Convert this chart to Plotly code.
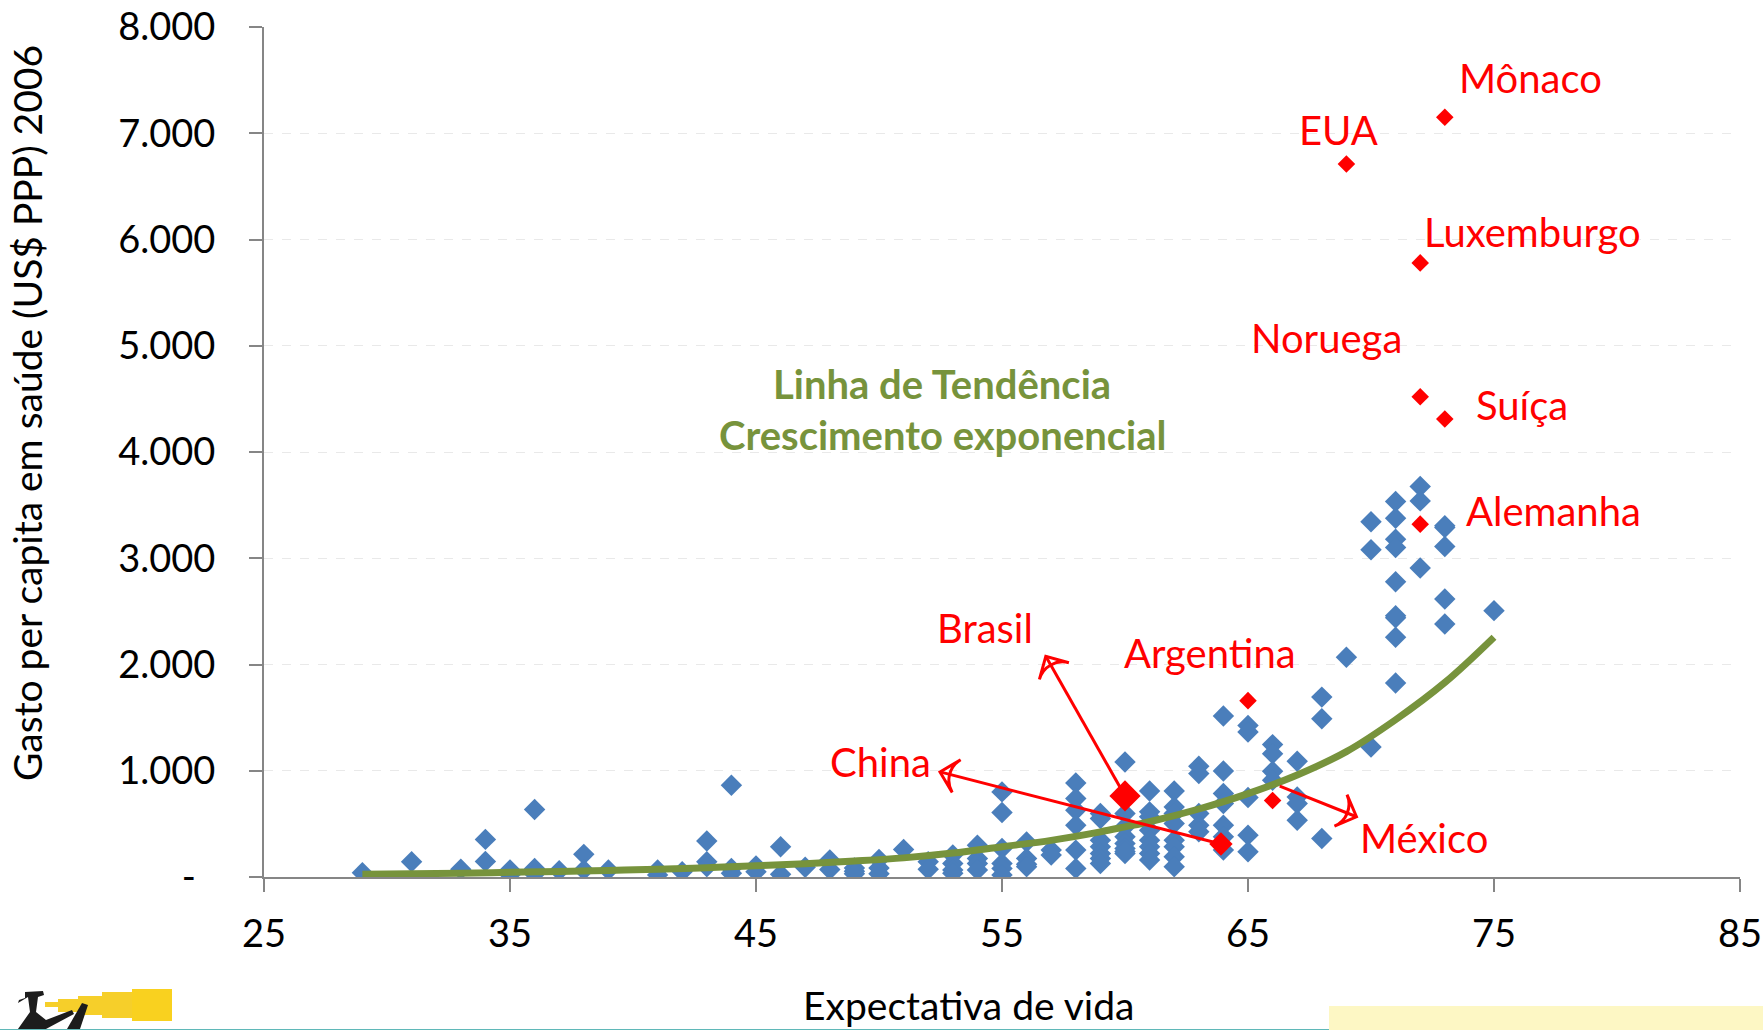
import plotly.graph_objects as go

W, H = 1763, 1030
L, R, T, B = 264, 1740, 27, 877

blue_x = [29,31,33,34,34,35,35,36,36,36,37,38,38,39,41,41,42,43,43,43,44,44,44,
          45,45,46,46,47,48,48,49,49,49,50,50,50,51,52,52,53,53,53,53,
          54,54,54,54,55,55,55,55,55,55,56,56,56,56,57,57,
          58,58,58,58,58,58,59,59,59,59,59,59,59,60,60,60,60,60,60,60,60,
          61,61,61,61,61,61,61,61,62,62,62,62,62,62,62,62,63,63,63,63,63,
          64,64,64,64,64,64,64,65,65,65,65,65,66,66,66,66,67,67,67,67,68,68,68,
          69,70,70,70,71,71,71,71,71,71,71,71,71,72,72,72,73,73,73,73,73,75]
blue_y = [40,144,72,354,147,66,20,636,80,28,60,213,66,66,66,20,50,338,144,97,864,81,35,
          103,50,285,25,91,160,70,85,55,30,165,85,30,260,144,72,207,128,66,35,
          300,175,128,66,801,607,269,128,81,19,330,175,120,97,253,206,
          885,738,629,488,253,81,598,550,347,285,222,175,128,1083,598,472,378,316,269,222,240,
          810,613,566,441,347,285,222,160,810,660,598,504,347,285,190,97,1042,973,598,488,425,
          1515,998,785,692,488,378,253,1427,1365,748,394,238,1246,1161,995,911,1089,754,692,535,1693,1490,363,
          2069,3343,3080,1224,3534,3377,3180,3102,2779,2460,2257,1825,2440,3675,3540,2908,3305,3111,2617,2382,3290,2507]

red_names = ["Mônaco","EUA","Luxemburgo","Noruega","Suíça","Alemanha","Argentina","México"]
red_x = [73,69,72,72,73,72,65,66]
red_y = [7150,6710,5780,4520,4310,3321,1660,720]
big_x = [60,63.9]
big_y = [763,310]
big_size = [24,18]

trend_x = [29,31,33,35,37,39,41,43,45,47,49,51,53,55,57,59,60,61,63,65,67,69,71,73,75]
trend_y = [25,30,36,44,52,62,72,88,105,125,150,180,225,285,345,425,472,520,640,785,960,1180,1480,1830,2257]

arrow_brasil = ([60,56.78],[763,2077])
arrow_china = ([63.9,52.48],[310,989])
arrow_mexico = ([66.29,69.41],[855,567])

x_ticks = [25,35,45,55,65,75,85]
y_ticks = [0,1000,2000,3000,4000,5000,6000,7000,8000]
y_labels = ["-\u00a0\u00a0","1.000","2.000","3.000","4.000","5.000","6.000","7.000","8.000"]

FONT = "Lato"
RED = "#FF0000"
GREEN = "#77933C"
BLUE = "#4A7EBB"
FS = 40
TICK_FS = 38
TITLE_FS = 39

px = lambda v: (v - L) / (R - L)
py = lambda v: (B - v) / (B - T)

fig = go.Figure()
fig.add_trace(go.Scatter(x=blue_x, y=blue_y, mode="markers", showlegend=False,
                         marker=dict(symbol="diamond", size=16.5, color=BLUE, line=dict(width=0))))
fig.add_trace(go.Scatter(x=trend_x, y=trend_y, mode="lines", showlegend=False,
                         line=dict(color=GREEN, width=7, shape="spline")))
fig.add_trace(go.Scatter(x=red_x, y=red_y, mode="markers", showlegend=False,
                         marker=dict(symbol="diamond", size=13.5, color=RED, line=dict(width=0))))
fig.add_trace(go.Scatter(x=big_x, y=big_y, mode="markers", showlegend=False,
                         marker=dict(symbol="diamond", size=big_size, color=RED, opacity=1, line=dict(width=0))))
for ax_, ay_ in (arrow_brasil, arrow_china, arrow_mexico):
    fig.add_trace(go.Scatter(x=ax_, y=ay_, mode="lines+markers", showlegend=False,
                             line=dict(color=RED, width=3),
                             marker=dict(symbol="arrow-wide-open", size=[0,24], angleref="previous", opacity=1,
                                         color=RED, line=dict(color=RED, width=3))))

labels = [("Mônaco",1530,78),("EUA",1338,130),("Luxemburgo",1532,232),("Noruega",1326,338),
          ("Suíça",1522,405),("Alemanha",1553,511),("Brasil",985,628),("Argentina",1210,653),
          ("China",880,762),("México",1424,838)]
anns = [dict(text=t, x=px(x), y=py(y), xref="paper", yref="paper", showarrow=False,
             xanchor="center", yanchor="middle", font=dict(family=FONT, size=FS, color=RED))
        for t, x, y in labels]
for t, y in (("Linha de Tendência",384),("Crescimento exponencial",435)):
    anns.append(dict(text="<b>"+t+"</b>", x=px(942), y=py(y), xref="paper", yref="paper", showarrow=False,
                     xanchor="center", yanchor="middle", font=dict(family=FONT, size=FS, color=GREEN)))
anns.append(dict(text="Expectativa de vida", x=px(968), y=py(1005), xref="paper", yref="paper", showarrow=False,
                 xanchor="center", yanchor="middle", font=dict(family=FONT, size=TITLE_FS, color="#000000")))
anns.append(dict(text="Gasto per capita em saúde (US$ PPP) 2006", x=px(27), y=py(413), xref="paper", yref="paper",
                 showarrow=False, textangle=-90, xanchor="center", yanchor="middle",
                 font=dict(family=FONT, size=TITLE_FS, color="#000000")))

def rect(x0, y0, x1, y1, color):
    return dict(type="rect", xref="paper", yref="paper", x0=px(x0), x1=px(x1), y0=py(y1), y1=py(y0),
                fillcolor=color, line=dict(width=0), layer="below")

def poly(points, color):
    d = "M " + " L ".join(f"{px(a):.5f},{py(b):.5f}" for a, b in points) + " Z"
    return dict(type="path", xref="paper", yref="paper", path=d, fillcolor=color, line=dict(width=0), layer="below")

shapes = [
    rect(0,1029,1329,1030,"#5FB8B8"),
    rect(1329,1006,W,1030,"#FDF7C4"),
    rect(45,1002,58,1007,"#F6CF2A"),
    rect(58,999,78,1012,"#F6CF2A"),
    rect(78,996,102,1015,"#F6CF2A"),
    rect(102,992,133,1018,"#F6CF2A"),
    rect(132,989,172,1021,"#F9D11F"),
    poly([(25,992),(43,991),(44,995),(38,997),(36,1012),(46,1020),(72,1010),(74,1014),(46,1029),(18,1029),(30,1012),(28,997),(18,1003),(19,1000),(25,998)],"#1C1C1C"),
    poly([(82,1003),(88,1005),(80,1029),(67,1029)],"#1C1C1C"),
]

fig.update_layout(
    width=W, height=H, autosize=False, paper_bgcolor="white", plot_bgcolor="white",
    margin=dict(l=L, r=W-R, t=T, b=H-B, autoexpand=False),
    font=dict(family=FONT, size=TICK_FS, color="#000000"),
    annotations=anns, shapes=shapes, showlegend=False,
    xaxis=dict(range=[25,85], tickmode="array", tickvals=x_ticks, ticks="outside", ticklen=13, tickwidth=2,
               tickcolor="#868686", showline=True, linecolor="#868686", linewidth=2, showgrid=False, zeroline=False,
               tickfont=dict(family=FONT, size=TICK_FS), automargin=False, ticklabelstandoff=9),
    yaxis=dict(range=[0,8000], tickmode="array", tickvals=y_ticks, ticktext=y_labels, ticks="outside", ticklen=13,
               tickwidth=2, tickcolor="#868686", showline=True, linecolor="#868686", linewidth=2,
               showgrid=True, gridcolor="#E9E9E9", griddash="dash", gridwidth=1, zeroline=False,
               tickfont=dict(family=FONT, size=TICK_FS), automargin=False, ticklabelstandoff=26),
)
fig.write_html("out.html", config={"displayModeBar": False},
               post_script="document.body.style.margin='0';document.documentElement.style.overflow='hidden';")
